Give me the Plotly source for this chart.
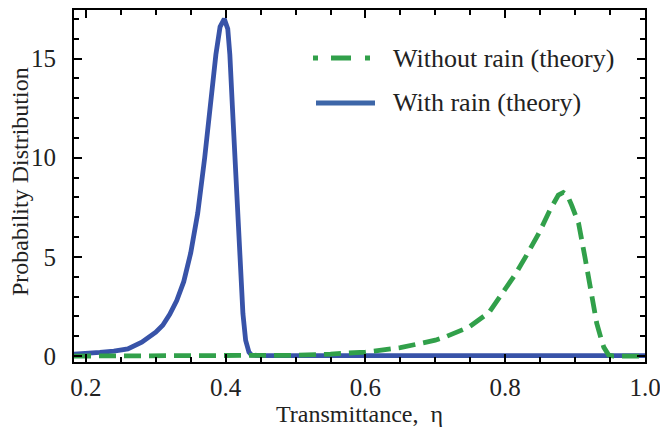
import plotly.graph_objects as go

# Transmittance grid and probability density, with rain (theory)
eta_rain = [0.183, 0.20, 0.22, 0.24, 0.26, 0.28, 0.29, 0.30, 0.31, 0.32, 0.33, 0.34,
            0.35, 0.36, 0.37, 0.38, 0.386, 0.392, 0.398, 0.403, 0.406, 0.4095,
            0.415, 0.417, 0.419, 0.4214, 0.4247, 0.4286, 0.4333, 0.437, 0.45,
            0.60, 0.80, 1.0]
pdf_rain = [0.10, 0.12, 0.18, 0.25, 0.36, 0.70, 0.95, 1.20, 1.55, 2.10, 2.80, 3.75,
            5.20, 7.20, 10.0, 13.3, 15.2, 16.6, 17.0, 16.5, 15.2, 12.66,
            8.87, 7.19, 5.50, 3.82, 2.14, 0.79, 0.20, 0.05, 0.02,
            0.02, 0.02, 0.02]

# Transmittance grid and probability density, without rain (theory)
eta_clear = [0.183, 0.30, 0.45, 0.50, 0.55, 0.60, 0.65, 0.667, 0.70, 0.714, 0.748,
             0.777, 0.80, 0.815, 0.83, 0.848, 0.864, 0.876, 0.883, 0.889, 0.895,
             0.905, 0.914, 0.924, 0.931, 0.937, 0.941, 0.948, 0.955, 1.0]
pdf_clear = [0.0, 0.0, 0.0, 0.04, 0.10, 0.20, 0.42, 0.54, 0.80, 0.96, 1.46,
             2.20, 3.32, 4.15, 5.05, 6.18, 7.36, 8.12, 8.25, 8.10, 7.61,
             6.69, 5.00, 3.15, 1.64, 0.90, 0.45, 0.05, 0.0, 0.0]

legend_labels = ["Without rain (theory)", "With rain (theory)"]
x_ticks = [0.2, 0.4, 0.6, 0.8, 1.0]
y_ticks = [0, 5, 10, 15]

BLUE = "#3853a8"
BLUE_KEY = "#3d66a8"
GREEN = "#31a04a"
FONT = "Liberation Serif"
TEXT = "#222222"

fig = go.Figure()
fig.add_trace(go.Scatter(x=eta_rain, y=pdf_rain, mode="lines",
                         line=dict(color=BLUE, width=4.8), showlegend=False))
fig.add_trace(go.Scatter(x=eta_clear, y=pdf_clear, mode="lines",
                         line=dict(color=GREEN, width=4.8, dash="17px,8px"),
                         showlegend=False))

axis_common = dict(
    showline=True, linecolor="black", linewidth=2, mirror="ticks",
    ticks="inside", ticklen=8, tickwidth=2, tickcolor="black",
    showgrid=False, zeroline=False, automargin=False,
    ticklabeloverflow="allow",
    tickfont=dict(family=FONT, size=25, color=TEXT),
    title_font=dict(family=FONT, size=24, color=TEXT),
)

fig.update_xaxes(range=[0.183, 1.0], tickvals=x_ticks, tickformat=".1f",
                 minor=dict(dtick=0.05, tick0=0.2, ticks="inside", ticklen=5,
                            tickwidth=2, tickcolor="black", showgrid=False),
                 ticklabelstandoff=2,
                 title_text="Transmittance,\u00a0\u00a0\u03b7", title_standoff=6,
                 **axis_common)
fig.update_yaxes(range=[-0.3, 17.45], tickvals=y_ticks,
                 minor=dict(dtick=1, tick0=0, ticks="inside", ticklen=5,
                            tickwidth=2, tickcolor="black", showgrid=False),
                 ticklabelstandoff=11,
                 **axis_common)

# Positions inside the figure, in pixels, converted to paper coordinates
x0, x1 = 74, 645
y0, y1 = 362, 10
def px(x):
    return (x - x0) / (x1 - x0)
def py(y):
    return (y0 - y) / (y0 - y1)

# Vertical axis title
fig.add_annotation(text="Probability Distribution", xref="paper", yref="paper",
                   x=px(20), y=py(182), xanchor="center", yanchor="middle",
                   textangle=-90, showarrow=False,
                   font=dict(family=FONT, size=24, color=TEXT))

# Legend keys
fig.add_shape(type="line", xref="paper", yref="paper",
              x0=px(313), x1=px(372), y0=py(58), y1=py(58),
              line=dict(color=GREEN, width=4.8, dash="5px,13px,20px,14px,5px"))
fig.add_shape(type="line", xref="paper", yref="paper",
              x0=px(316), x1=px(375), y0=py(103), y1=py(103),
              line=dict(color=BLUE_KEY, width=4.8))
for label, yy in zip(legend_labels, [58, 103]):
    fig.add_annotation(text=label, xref="paper", yref="paper",
                       x=px(391), y=py(yy), xanchor="left", yanchor="middle",
                       showarrow=False,
                       font=dict(family=FONT, size=26, color=TEXT))

fig.update_layout(
    width=660, height=427,
    margin=dict(l=74, r=15, t=10, b=65),
    plot_bgcolor="white", paper_bgcolor="white",
    showlegend=False,
)

fig.write_html("out.html")
